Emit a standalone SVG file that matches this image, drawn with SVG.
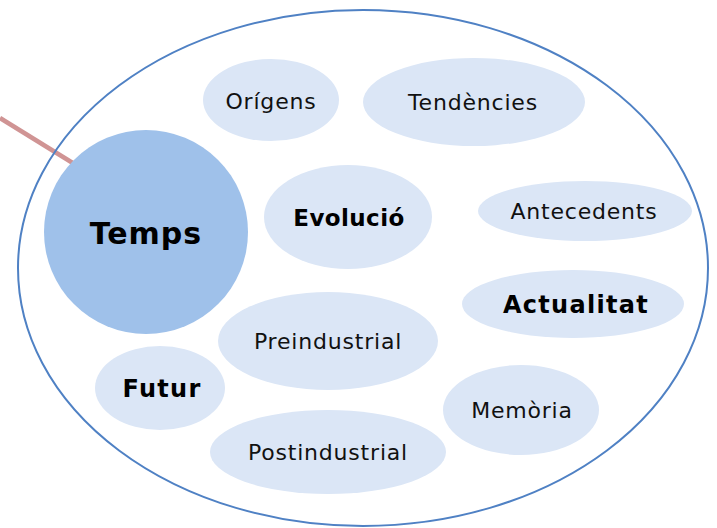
<svg xmlns="http://www.w3.org/2000/svg" width="717" height="528" viewBox="0 0 717 528">
<style>
.bub{fill:#dbe6f6;stroke:none}
.t{font-family:"DejaVu Sans",Verdana,sans-serif;font-size:22px;letter-spacing:0.8px;fill:#111;text-anchor:middle}
.b{font-weight:bold;font-size:24px;letter-spacing:1.3px;fill:#000}
</style>
<rect width="717" height="528" fill="#fff"/>
<g id="connectors">
<line x1="0" y1="118" x2="76" y2="165" stroke="#d09494" stroke-width="4.5"/>
</g>
<g id="frame">
<ellipse cx="363" cy="268" rx="345" ry="258" fill="none" stroke="#4f81c4" stroke-width="2"/>
</g>
<g id="temps">
<circle cx="146" cy="232" r="102" fill="#9fc1ea"/>
<text class="t b" x="146" y="244" style="font-size:30px;letter-spacing:1px">Temps</text>
</g>
<g id="origens">
<ellipse class="bub" cx="271" cy="100" rx="68" ry="41"/>
<text class="t" x="271" y="109">Orígens</text>
</g>
<g id="tendencies">
<ellipse class="bub" cx="474" cy="102" rx="111" ry="44"/>
<text class="t" x="473" y="110">Tendències</text>
</g>
<g id="evolucio">
<ellipse class="bub" cx="348" cy="217" rx="84" ry="52"/>
<text class="t b" x="349" y="226" style="font-size:23px;letter-spacing:0.4px">Evolució</text>
</g>
<g id="antecedents">
<ellipse class="bub" cx="585" cy="211" rx="107" ry="30"/>
<text class="t" x="584" y="219">Antecedents</text>
</g>
<g id="actualitat">
<ellipse class="bub" cx="573" cy="304" rx="111" ry="34"/>
<text class="t b" x="576" y="313">Actualitat</text>
</g>
<g id="preindustrial">
<ellipse class="bub" cx="328" cy="341" rx="110" ry="49"/>
<text class="t" x="328" y="349">Preindustrial</text>
</g>
<g id="futur">
<ellipse class="bub" cx="160" cy="388" rx="65" ry="42"/>
<text class="t b" x="162" y="397">Futur</text>
</g>
<g id="postindustrial">
<ellipse class="bub" cx="328" cy="452" rx="118" ry="42"/>
<text class="t" x="328" y="460">Postindustrial</text>
</g>
<g id="memoria">
<ellipse class="bub" cx="521" cy="410" rx="78" ry="45"/>
<text class="t" x="522" y="418">Memòria</text>
</g>
</svg>
